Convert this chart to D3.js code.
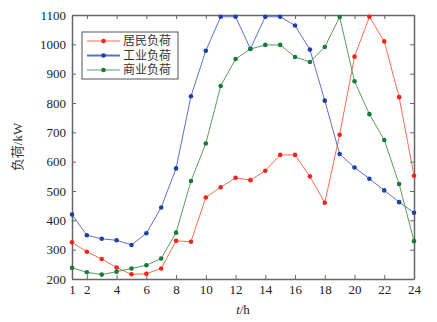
<!DOCTYPE html>
<html>
<head>
<meta charset="utf-8">
<script src="https://cdn.jsdelivr.net/npm/d3@7"></script>
<style>
  body { margin: 0; background: #fff; }
  svg text { font-family: "Liberation Serif", "Noto Sans CJK SC", serif; }
</style>
</head>
<body>
<svg id="chart" width="437" height="322"></svg>
<script>
// hours 1..24
const hours = d3.range(1, 25);
const xTicks = [1, 2, 4, 6, 8, 10, 12, 14, 16, 18, 20, 22, 24];
const yTicks = [200, 300, 400, 500, 600, 700, 800, 900, 1000, 1100];

const residential = [325, 293, 268, 239, 216, 218, 236, 330, 327, 478, 513, 545,
  537, 569, 623, 623, 550, 460, 692, 958, 1094, 1010, 820, 552];
const industrial = [420, 349, 337, 332, 316, 356, 444, 577, 823, 978, 1094, 1094,
  985, 1094, 1094, 1064, 982, 808, 626, 580, 542, 502, 462, 426];
const commercial = [238, 223, 215, 225, 236, 247, 270, 358, 534, 662, 858, 950,
  984, 998, 998, 957, 940, 991, 1093, 874, 762, 674, 524, 329];

const series = [
  { name: '居民负荷', values: residential, line: '#ff6a50', dot: '#f5231a' },
  { name: '工业负荷', values: industrial, line: '#5c70cc', dot: '#1d3fa6' },
  { name: '商业负荷', values: commercial, line: '#5f9a62', dot: '#167a3a' },
];

const svg = d3.select('#chart');
const margin = { top: 15, right: 23, bottom: 43, left: 72 };
const width = 437, height = 322;
const axisColor = '#666';

const x = d3.scaleLinear().domain([1, 24]).range([margin.left, width - margin.right]);
const y = d3.scaleLinear().domain([200, 1100]).range([height - margin.bottom, margin.top]);

// bottom axis
const gx = svg.append('g')
  .attr('transform', `translate(0,${height - margin.bottom})`)
  .call(d3.axisBottom(x).tickValues(xTicks).tickSizeInner(-4).tickSizeOuter(0).tickPadding(6));
// top ticks
const gxt = svg.append('g')
  .attr('transform', `translate(0,${margin.top})`)
  .call(d3.axisTop(x).tickValues(xTicks).tickSizeInner(-4).tickSizeOuter(0).tickFormat(''));
// left axis
const gy = svg.append('g')
  .attr('transform', `translate(${margin.left},0)`)
  .call(d3.axisLeft(y).tickValues(yTicks).tickFormat(d3.format('d'))
    .tickSizeInner(-4).tickSizeOuter(0).tickPadding(6));
// right ticks
const gyr = svg.append('g')
  .attr('transform', `translate(${width - margin.right},0)`)
  .call(d3.axisRight(y).tickValues(yTicks).tickSizeInner(-4).tickSizeOuter(0).tickFormat(''));

[gx, gxt, gy, gyr].forEach(g => {
  g.selectAll('path').attr('stroke', axisColor).attr('stroke-width', 1.5);
  g.selectAll('line').attr('stroke', axisColor).attr('stroke-width', 1);
  g.selectAll('text').attr('fill', '#222').style('font-size', '13px')
    .style('font-family', '"Liberation Serif", serif');
});

// lines and markers
const line = d3.line()
  .x((d, i) => x(hours[i]))
  .y(d => y(d));

series.forEach(s => {
  svg.append('path')
    .datum(s.values)
    .attr('fill', 'none')
    .attr('stroke', s.line)
    .attr('stroke-width', 1)
    .attr('d', line);

  svg.append('g')
    .selectAll('circle')
    .data(s.values)
    .enter()
    .append('circle')
    .attr('cx', (d, i) => x(hours[i]))
    .attr('cy', d => y(d))
    .attr('r', 2.3)
    .attr('fill', s.dot);
});

// legend
const legend = svg.append('g').attr('transform', 'translate(82,32)');
legend.append('rect')
  .attr('width', 96).attr('height', 47)
  .attr('fill', '#fff').attr('stroke', '#555').attr('stroke-width', 1);
series.forEach((s, i) => {
  const ly = 9 + i * 14.5;
  legend.append('line')
    .attr('x1', 5).attr('x2', 38).attr('y1', ly).attr('y2', ly)
    .attr('stroke', s.line).attr('stroke-width', i === 1 ? 2 : 1);
  legend.append('circle')
    .attr('cx', 21.5).attr('cy', ly).attr('r', 2.3).attr('fill', s.dot);
  legend.append('text')
    .attr('x', 41).attr('y', ly)
    .attr('dy', '0.36em')
    .style('font-size', '12px')
    .style('font-family', '"Noto Sans CJK SC", sans-serif')
    .attr('fill', '#333')
    .text(s.name);
});

// axis titles
svg.append('text')
  .attr('transform', `translate(22,${(margin.top + height - margin.bottom) / 2}) rotate(-90)`)
  .attr('text-anchor', 'middle')
  .style('font-size', '13px')
  .attr('fill', '#333')
  .text('负荷/kW');

const xt = svg.append('text')
  .attr('x', (margin.left + width - margin.right) / 2)
  .attr('y', 314)
  .attr('text-anchor', 'middle')
  .style('font-size', '13px')
  .attr('fill', '#222');
xt.append('tspan').style('font-style', 'italic').text('t');
xt.append('tspan').text('/h');
</script>
</body>
</html>
